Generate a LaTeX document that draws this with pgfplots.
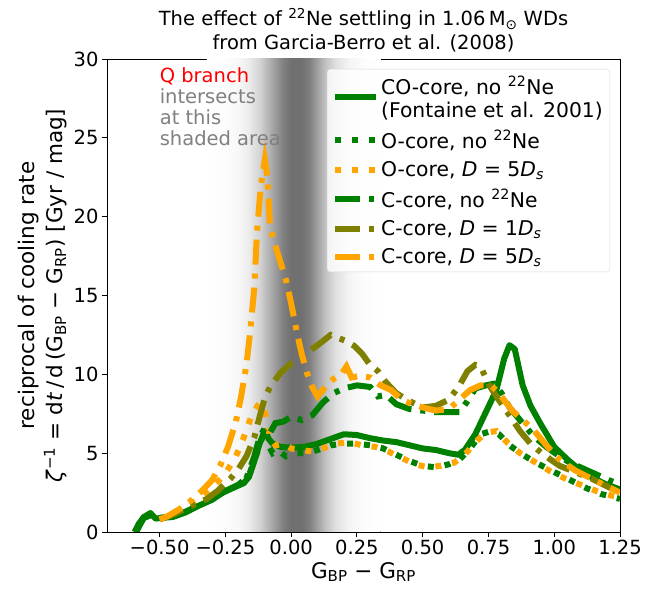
\documentclass[border=0pt]{standalone}
\usepackage{fontspec}
\setmainfont{DejaVu Sans}
\usepackage{pgfplots}
\pgfplotsset{compat=1.18}
\definecolor{mgreen}{HTML}{008000}
\definecolor{molive}{HTML}{808000}
\definecolor{morange}{HTML}{FFA500}
% band from x=-0.32 to 0.34 is mapped onto 25bp..75bp
\pgfdeclarehorizontalshading{qband}{100bp}{
  color(0bp)=(white); color(25bp)=(white);
  color(30.3bp)=(black!1); color(34.09bp)=(black!3); color(37.12bp)=(black!8);
  color(40.15bp)=(black!17); color(42.42bp)=(black!28); color(44.7bp)=(black!39);
  color(46.97bp)=(black!50); color(49.24bp)=(black!56); color(52.27bp)=(black!56);
  color(54.55bp)=(black!50); color(56.82bp)=(black!37); color(59.09bp)=(black!24);
  color(62.12bp)=(black!12); color(65.91bp)=(black!4); color(70.45bp)=(black!1);
  color(75bp)=(white); color(100bp)=(white)}
\begin{document}
\begin{tikzpicture}
\begin{axis}[
  scale only axis,
  width=513bp, height=473bp,
  xmin=-0.7, xmax=1.25, ymin=0, ymax=30,
  axis line style={black, line width=0.9bp},
  font=\fontsize{19.5bp}{23bp}\selectfont,
  /pgf/number format/assume math mode=true,
  tick align=outside, major tick length=5bp,
  tick style={black, line width=0.9bp},
  xtick pos=left, ytick pos=left,
  xtick={-0.5,-0.25,0,0.25,0.5,0.75,1,1.25},
  xticklabels={−0.50,−0.25,0.00,0.25,0.50,0.75,1.00,1.25},
  ytick={0,5,10,15,20,25,30},
  xlabel={G\textsubscript{BP} − G\textsubscript{RP}},
  ylabel={reciprocal of cooling rate\\\textit{ζ}\textsuperscript{−1} = d\textit{t}\,/\,d\,(G\textsubscript{BP} − G\textsubscript{RP}) [Gyr / mag]},
  label style={font=\fontsize{21.5bp}{28bp}\selectfont},
  ylabel style={align=center},
  title={The effect of \textsuperscript{22}Ne settling in 1.06\,M\textsubscript{⊙} WDs\\from Garcia-Berro et al. (2008)},
  title style={align=center, font=\fontsize{19.5bp}{24bp}\selectfont, yshift=-3bp},
  legend cell align=left,
  legend style={at={(1,1)}, anchor=north east, xshift=-10bp, yshift=-10bp,
    draw=black!15, rounded corners=3bp, fill=white, fill opacity=0.8, text opacity=1,
    font=\fontsize{20.3bp}{23bp}\selectfont, cells={align=left}, row sep=7.5bp,
    inner xsep=5bp, inner ysep=5bp},
  legend image code/.code={\draw[#1] (0bp,0bp) -- (41bp,0bp);},
  every axis legend/.append style={/tikz/every even column/.append style={column sep=9bp}},
  clip=true,
]
% shaded Q-branch band
\fill[shading=qband, draw=none] (axis cs:-0.32,0) rectangle (axis cs:0.34,30);

% CO-core, no 22Ne
\addplot[mgreen, line width=6bp, line join=round] coordinates {
(-0.595,0.0) (-0.58,0.5) (-0.56,0.95) (-0.535,1.2) (-0.515,0.85) (-0.49,0.9)
(-0.45,0.95) (-0.40,1.25) (-0.36,1.6) (-0.30,2.05) (-0.26,2.5) (-0.22,2.8)
(-0.18,3.1) (-0.16,3.5) (-0.14,4.5) (-0.12,5.6) (-0.10,6.4) (-0.085,5.9)
(-0.07,5.6) (-0.04,5.4) (0.00,5.35) (0.05,5.4) (0.10,5.6) (0.15,5.9)
(0.20,6.2) (0.25,6.15) (0.30,5.95) (0.35,5.8) (0.40,5.7) (0.45,5.5)
(0.50,5.3) (0.55,5.2) (0.60,5.0) (0.635,4.9) (0.66,5.2) (0.70,6.2)
(0.74,7.6) (0.78,9.0) (0.81,11.0) (0.83,11.85) (0.85,11.6) (0.88,9.3)
(0.91,8.0) (0.95,6.8) (1.00,5.4) (1.05,4.6) (1.10,3.9) (1.15,3.4)
(1.20,3.0) (1.25,2.7)
};
\addlegendentry{CO-core, no \textsuperscript{22}Ne\\(Fontaine et al. 2001)\rule[-14bp]{0pt}{14bp}}

% O-core, no 22Ne
\addplot[mgreen, line width=6bp, dash pattern=on 6bp off 11bp] coordinates {
(-0.59,0.0) (-0.56,0.9) (-0.53,1.1) (-0.50,0.9) (-0.45,1.0) (-0.40,1.3)
(-0.35,1.7) (-0.30,2.1) (-0.25,2.6) (-0.20,3.0) (-0.16,3.6) (-0.13,5.0)
(-0.11,6.0) (-0.09,5.6) (-0.07,5.0) (-0.05,5.2) (-0.02,4.8) (0.02,5.0)
(0.06,5.0) (0.10,5.2) (0.15,5.5) (0.20,5.6) (0.25,5.6) (0.30,5.5)
(0.35,5.3) (0.40,4.9) (0.45,4.5) (0.50,4.2) (0.55,4.1) (0.60,4.3)
(0.64,4.6) (0.68,5.3) (0.72,6.2) (0.76,6.4) (0.79,6.2) (0.83,5.5)
(0.88,4.9) (0.93,4.4) (1.00,3.8) (1.06,3.3) (1.12,2.8) (1.18,2.4) (1.25,2.1)
};
\addlegendentry{O-core, no \textsuperscript{22}Ne}

% O-core, D=5Ds
\addplot[morange, line width=6bp, dash pattern=on 6bp off 11bp] coordinates {
(-0.50,0.8) (-0.45,1.1) (-0.40,1.6) (-0.35,2.1) (-0.30,2.8) (-0.25,3.7)
(-0.21,4.8) (-0.18,6.0) (-0.15,7.4) (-0.12,8.2) (-0.10,7.6) (-0.08,6.0)
(-0.06,5.5) (-0.03,5.6) (0.00,5.3) (0.04,5.2) (0.08,5.1) (0.12,5.3)
(0.17,5.6) (0.22,5.7) (0.27,5.5) (0.32,5.4) (0.37,5.1) (0.42,4.7)
(0.47,4.3) (0.52,4.1) (0.57,4.2) (0.62,4.4) (0.66,4.9) (0.70,5.7)
(0.74,6.3) (0.78,6.4) (0.82,5.7) (0.87,5.0) (0.92,4.5) (0.98,3.9)
(1.04,3.4) (1.10,3.0) (1.16,2.6) (1.22,2.3) (1.25,2.2)
};
\addlegendentry{O-core, \textit{D} = 5\textit{D}\textsubscript{\textit{s}}}

% C-core, no 22Ne
\addplot[mgreen, line width=6bp, dash pattern=on 25bp off 9bp on 5bp off 9bp] coordinates {
(-0.59,0.0) (-0.56,0.9) (-0.53,1.1) (-0.50,0.85) (-0.45,1.0) (-0.40,1.3)
(-0.35,1.7) (-0.30,2.1) (-0.25,2.6) (-0.20,3.0) (-0.17,3.4) (-0.14,4.8)
(-0.12,6.0) (-0.10,6.6) (-0.08,6.3) (-0.06,6.9) (-0.03,7.0) (0.00,7.3)
(0.04,7.1) (0.08,7.4) (0.12,8.2) (0.16,8.8) (0.20,9.1) (0.25,9.3)
(0.30,9.2) (0.33,8.6) (0.36,8.7) (0.40,8.1) (0.45,7.8) (0.50,7.7)
(0.55,7.6) (0.60,7.6) (0.64,7.6) (0.67,8.3) (0.70,9.1) (0.74,9.3)
(0.77,9.4) (0.80,8.8) (0.83,7.9) (0.87,7.1) (0.92,6.1) (0.97,5.4)
(1.02,4.8) (1.06,4.4) (1.10,4.1) (1.14,3.8) (1.18,3.5) (1.22,3.2) (1.25,3.0)
};
\addlegendentry{C-core, no \textsuperscript{22}Ne}

% C-core, D=1Ds
\addplot[molive, line width=6bp, dash pattern=on 25bp off 9bp on 5bp off 9bp] coordinates {
(-0.50,0.8) (-0.45,1.1) (-0.40,1.5) (-0.36,1.8) (-0.32,2.1) (-0.28,2.6)
(-0.23,3.4) (-0.20,4.0) (-0.17,4.8) (-0.14,6.0) (-0.12,7.3) (-0.10,8.5)
(-0.08,9.2) (-0.04,10.1) (0.00,10.7) (0.04,11.1) (0.08,11.6) (0.12,12.1)
(0.15,12.5) (0.18,12.3) (0.21,12.1) (0.24,11.8) (0.27,11.3) (0.30,10.6)
(0.33,10.2) (0.36,9.5) (0.40,8.8) (0.45,8.3) (0.50,7.9) (0.55,8.0)
(0.60,8.4) (0.64,9.3) (0.67,10.2) (0.70,10.6) (0.72,10.5) (0.75,9.4)
(0.78,8.6) (0.83,7.4) (0.87,6.4) (0.91,5.6) (0.96,4.9) (1.02,4.2)
(1.08,3.8) (1.14,3.4) (1.20,2.9) (1.25,2.5)
};
\addlegendentry{C-core, \textit{D} = 1\textit{D}\textsubscript{\textit{s}}}

% C-core, D=5Ds
\addplot[morange, line width=6bp, dash pattern=on 25bp off 9bp on 5bp off 9bp] coordinates {
(-0.50,0.8) (-0.47,1.0) (-0.42,1.5) (-0.38,2.0) (-0.34,2.6) (-0.30,3.3)
(-0.27,4.2) (-0.24,5.4) (-0.21,7.0) (-0.19,8.6) (-0.17,10.6) (-0.155,12.8)
(-0.14,15.5) (-0.13,19.0) (-0.115,22.0) (-0.10,23.6) (-0.09,22.5) (-0.08,19.3)
(-0.05,17.6) (-0.02,16.0) (0.00,14.5) (0.02,12.8) (0.04,11.3) (0.06,10.1)
(0.08,9.2) (0.10,8.6) (0.13,9.2) (0.16,9.7) (0.19,10.0) (0.21,10.5)
(0.23,9.8) (0.26,9.9) (0.30,9.8) (0.34,9.3) (0.38,9.0) (0.42,8.4)
(0.46,8.1) (0.50,7.9) (0.55,7.7) (0.60,7.8) (0.64,8.4) (0.68,9.0)
(0.72,9.3) (0.76,9.3) (0.79,8.8) (0.84,7.7) (0.88,7.1) (0.92,6.5)
(0.97,5.5) (1.02,4.6) (1.08,3.9) (1.14,3.4) (1.20,2.9) (1.25,2.5)
};
\addlegendentry{C-core, \textit{D} = 5\textit{D}\textsubscript{\textit{s}}}

\node[anchor=north west, align=left, inner sep=0pt, font=\fontsize{19.5bp}{21bp}\selectfont]
  at (axis cs:-0.5,29.45) {\textcolor{red}{Q branch}\\\textcolor{black!50}{intersects}\\\textcolor{black!50}{at this}\\\textcolor{black!50}{shaded area}};
\end{axis}
\pgfresetboundingbox
\path (current axis.south west) ++(-107bp,-57bp) rectangle ++(657bp,589bp);
\end{tikzpicture}
\end{document}
